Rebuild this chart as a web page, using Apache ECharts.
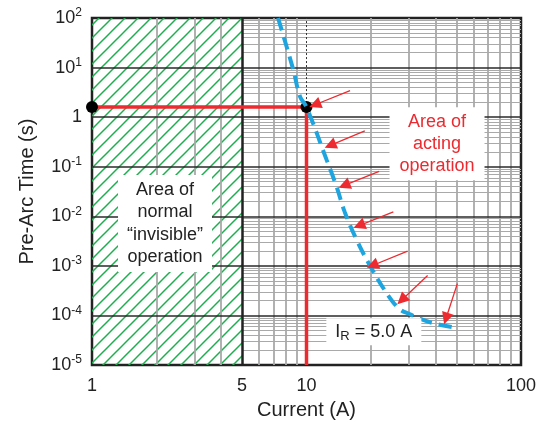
<!DOCTYPE html>
<html><head><meta charset="utf-8">
<script src="https://cdn.jsdelivr.net/npm/echarts@6/dist/echarts.min.js"></script>
<style>html,body{margin:0;padding:0;background:#fff}#c{width:542px;height:425px}</style>
</head><body><div id="c"></div>
<script>
// ---- data ----
const xTickValues = [1, 5, 10, 100];
const yTickValues = [1e-5, 1e-4, 1e-3, 1e-2, 1e-1, 1, 10, 100];
const curveX = [7.37, 8.68, 9.33, 10, 12.4, 13.8, 15.1, 17.1, 19.8, 24.1, 27.3, 30.4, 32.6, 39, 49.2];
const curveY = [100, 9.0, 2.6, 1.6, 0.139, 0.04, 0.012, 3.4e-3, 1e-3, 2.5e-4, 1.33e-4, 1.06e-4, 9.1e-5, 7e-5, 5.7e-5];
const ratedX = [1, 10];
const ratedY = [1.6, 1.6];
const redPathX = [1, 10, 10];
const redPathY = [1.6, 1.6, 1e-5];
const normalZone = [1, 5];
const arrowTailX = [15.96, 18.7, 21.8, 25.4, 29.6, 36.7, 50.5];
const arrowTailY = [3.44, 0.53, 0.081, 0.0123, 0.00199, 6.4e-4, 4.4e-4];
const arrowHeadX = [10.95, 12.9, 15.0, 17.6, 20.3, 27.8, 44.7];
const arrowHeadY = [1.78, 0.27, 0.042, 0.0065, 0.00102, 2.05e-4, 8.7e-5];
const noteText = ['Area of\nnormal\n\u201cinvisible\u201d\noperation', 'Area of\nacting\noperation', '{n|I}{sub|R}{n| = 5.0 A}'];
const noteX = [2.19, 40.6, 20.6];
const noteY = [0.0072, 0.29, 4.7e-5];

// ---- helpers ----
const FONT = 'Liberation Sans, Arial, Helvetica, sans-serif';
const minorRight = [6, 7, 8, 9, 20, 30, 40, 50, 60, 70, 80, 90];
const minorLeft = [2, 3, 4];
const yMin = yTickValues[0], yMax = yTickValues[yTickValues.length - 1];
const xMin = xTickValues[0], xMax = xTickValues[xTickValues.length - 1];

const tile = document.createElement('canvas');
tile.width = tile.height = 13;
const g = tile.getContext('2d');
g.strokeStyle = '#1fae4f'; g.lineWidth = 1.5;
[[-3, 16, 16, -3], [-3, 3, 3, -3], [10, 16, 16, 10]].forEach(s => { g.beginPath(); g.moveTo(s[0], s[1]); g.lineTo(s[2], s[3]); g.stroke(); });

const gridLines = [];
const minorH = { color: '#a9a9a9', width: 1.2, type: 'solid' };
const minorV = { color: '#a9a9a9', width: 1.8, type: 'solid' };
for (let e = -5; e <= 1; e++) for (let m = 2; m <= 9; m++) {
  const v = m * Math.pow(10, e);
  gridLines.push([{ coord: [normalZone[1], v], lineStyle: minorH }, { coord: [xMax, v] }]);
}
minorRight.concat(minorLeft).forEach(v => gridLines.push([{ coord: [v, yMin], lineStyle: minorV }, { coord: [v, yMax] }]));
yTickValues.slice(1, -1).forEach(v => gridLines.push([{ coord: [xMin, v], lineStyle: { color: '#2a2a2a', width: 1.5, type: 'solid' } }, { coord: [xMax, v] }]));
gridLines.push([{ coord: [normalZone[1], yMin], lineStyle: { color: '#222', width: 2.5, type: 'solid' } }, { coord: [normalZone[1], yMax] }]);
gridLines.push([{ coord: [ratedX[1], ratedY[1]], lineStyle: { color: '#333', width: 1, type: [2, 2] } }, { coord: [ratedX[1], yMax] }]);

const noteStyles = [
  { color: '#222', fontSize: 18, lineHeight: 22.5, width: 84, padding: [4, 5, 3, 5] },
  { color: '#ec2a2f', fontSize: 18, lineHeight: 22, width: 85, padding: [4, 5, 3, 5] },
  { color: '#222', width: 85, padding: [2, 5, 2, 5], rich: { n: { fontSize: 18, color: '#222', fontFamily: FONT }, sub: { fontSize: 13, color: '#222', fontFamily: FONT, padding: [10, 0, 0, 0] } } }
];

const chart = echarts.init(document.getElementById('c'), null, { renderer: 'canvas' });
chart.setOption({
  animation: false,
  backgroundColor: '#fff',
  grid: { left: 92, top: 18, right: 21, bottom: 59, show: true, borderColor: '#222', borderWidth: 2.5, backgroundColor: 'transparent' },
  xAxis: {
    type: 'log', logBase: 10, min: xMin, max: xMax,
    axisLine: { show: false }, axisTick: { show: false }, splitLine: { show: false },
    axisLabel: { customValues: xTickValues, fontSize: 18, color: '#222', fontFamily: FONT, margin: 12, formatter: v => String(Math.round(v)) },
    name: 'Current (A)', nameLocation: 'middle', nameGap: 34,
    nameTextStyle: { fontSize: 20, color: '#222', fontFamily: FONT }
  },
  yAxis: {
    type: 'log', logBase: 10, min: yMin, max: yMax,
    axisLine: { show: false }, axisTick: { show: false }, splitLine: { show: false },
    axisLabel: {
      customValues: yTickValues, margin: 10,
      formatter: v => { const e = Math.round(Math.log10(v)); return e === 0 ? '{b|1}' : '{b|10}{s|' + e + '}'; },
      rich: {
        b: { fontSize: 18, color: '#222', fontFamily: FONT },
        s: { fontSize: 12, color: '#222', fontFamily: FONT, padding: [0, 0, 10, 0] }
      }
    },
    name: 'Pre-Arc Time (s)', nameLocation: 'middle', nameGap: 55,
    nameTextStyle: { fontSize: 20, color: '#222', fontFamily: FONT }
  },
  series: [
    {
      type: 'line', data: [], z: 1, silent: true,
      markArea: { silent: true, itemStyle: { color: { image: tile, repeat: 'repeat' } }, data: [[{ coord: [normalZone[0], yMin] }, { coord: [normalZone[1], yMax] }]] }
    },
    {
      type: 'line', data: [], z: 2, silent: true,
      markLine: { silent: true, symbol: ['none', 'none'], label: { show: false }, animation: false, data: gridLines }
    },
    {
      type: 'line', z: 5, silent: true, symbol: 'none',
      lineStyle: { color: '#ec2a2f', width: 3.5 },
      data: redPathX.map((x, i) => [x, redPathY[i]])
    },
    {
      type: 'scatter', z: 6, silent: true, symbolSize: 12,
      itemStyle: { color: '#000', opacity: 1 },
      data: ratedX.map((x, i) => [x, ratedY[i]])
    },
    {
      type: 'line', z: 7, silent: true, symbol: 'none', smooth: 0.4,
      lineStyle: { color: '#1ea5df', width: 4, type: [13, 7] },
      data: curveX.map((x, i) => [x, curveY[i]])
    },
    {
      type: 'lines', coordinateSystem: 'cartesian2d', z: 8, silent: true,
      symbol: ['none', 'triangle'], symbolSize: [6, 12],
      lineStyle: { color: '#ec2a2f', width: 1.3, opacity: 1 },
      data: arrowTailX.map((x, i) => ({ coords: [[x, arrowTailY[i]], [arrowHeadX[i], arrowHeadY[i]]] }))
    },
    {
      type: 'scatter', z: 9, silent: true, symbolSize: 0,
      itemStyle: { opacity: 1 },
      data: noteX.map((x, i) => ({
        value: [x, noteY[i]],
        itemStyle: { opacity: 1 },
        label: Object.assign({ show: true, position: 'inside', formatter: noteText[i], backgroundColor: '#fff', opacity: 1, align: 'center', verticalAlign: 'middle', fontFamily: FONT }, noteStyles[i])
      }))
    }
  ]
});
</script></body></html>
